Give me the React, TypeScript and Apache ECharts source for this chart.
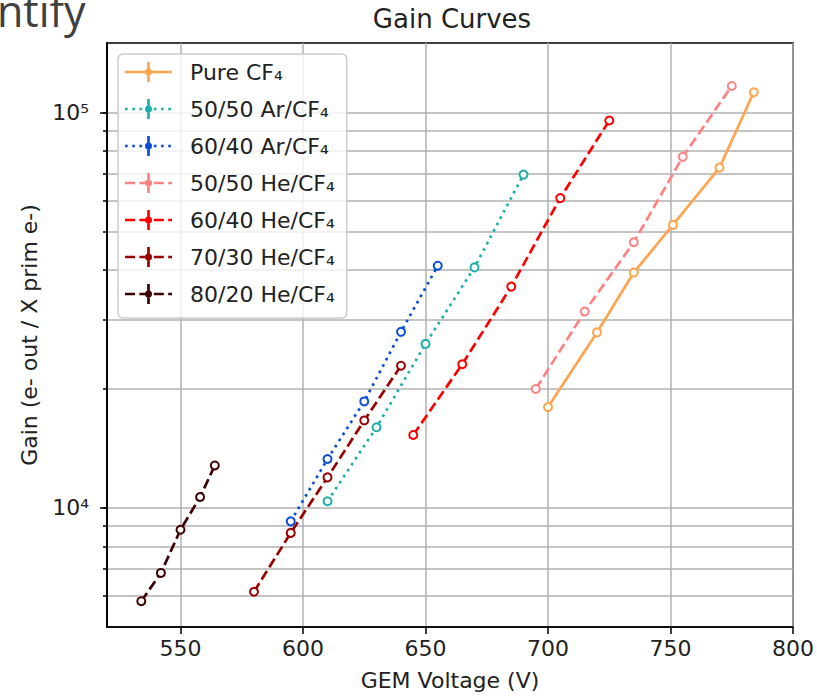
import React, { useEffect, useRef } from 'react';
import * as echarts from 'echarts';

// ---- Data ----
const seriesNames = [
  'Pure CF₄',
  '50/50 Ar/CF₄',
  '60/40 Ar/CF₄',
  '50/50 He/CF₄',
  '60/40 He/CF₄',
  '70/30 He/CF₄',
  '80/20 He/CF₄',
];

const pureCF4Voltage = [700, 720, 735, 751, 770, 784];
const pureCF4Gain = [18000, 27800, 39400, 52000, 72600, 112600];

const ar5050Voltage = [610, 630, 650, 670, 690];
const ar5050Gain = [10400, 16000, 26000, 40600, 69700];

const ar6040Voltage = [595, 610, 625, 640, 655];
const ar6040Gain = [9250, 13300, 18600, 27900, 41000];

const he5050Voltage = [695, 715, 735, 755, 775];
const he5050Gain = [20000, 31400, 47000, 77300, 116800];

const he6040Voltage = [645, 665, 685, 705, 725];
const he6040Gain = [15300, 23100, 36300, 60800, 95500];

const he7030Voltage = [580, 595, 610, 625, 640];
const he7030Gain = [6140, 8650, 11950, 16650, 22900];

const he8020Voltage = [534, 542, 550, 558, 564];
const he8020Gain = [5810, 6850, 8810, 10660, 12810];

const xTickValues = [550, 600, 650, 700, 750, 800];
const yMajorTickValues = [10000, 100000];
const yMajorTickLabels = ['10⁴', '10⁵'];
const yMinorTickValues = [
  6000, 7000, 8000, 9000, 10000, 20000, 30000, 40000, 50000, 60000, 70000,
  80000, 90000, 100000,
];

// ---- Styles ----
const seriesColors = [
  '#ffa54f',
  '#1eb0aa',
  '#0b4fd6',
  '#ff8282',
  '#ff0000',
  '#990000',
  '#3d0000',
];
const seriesDash = ['solid', 'dotted', 'dotted', 'dashed', 'dashed', 'dashed', 'dashed'];

const FONT = 'DejaVu Sans';
const TEXT = '#222222';
const GRID = '#b0b0b0';

const LW = 2.7;
const DOT_DASH = [2.7, 4.5];
const DASH_DASH = [10, 4.4];

function legendIconPath(kind: string): string {
  const W = 47;
  const cy = 10;
  const segs: [number, number][] = [];
  if (kind === 'solid') {
    segs.push([0, W]);
  } else {
    const pat = kind === 'dotted' ? DOT_DASH : DASH_DASH;
    for (let s = 0; s < W; s += pat[0] + pat[1]) {
      segs.push([s, Math.min(s + pat[0], W)]);
    }
  }
  let d = '';
  for (const [a, b] of segs) {
    d += `M${a} ${cy - LW / 2}H${b}V${cy + LW / 2}H${a}Z`;
  }
  const cx = W / 2;
  d += `M${cx - LW / 2} 0H${cx + LW / 2}V20H${cx - LW / 2}Z`;
  d += `M${cx - 3.5} ${cy}A3.5 3.5 0 1 1 ${cx + 3.5} ${cy}A3.5 3.5 0 1 1 ${cx - 3.5} ${cy}Z`;
  // spacer so that the icon box is 60 x 20
  d += `M60 ${cy}L60 ${cy}Z`;
  return 'path://' + d;
}

function pairs(xs: number[], ys: number[]) {
  return xs.map((x, i) => [x, ys[i]]);
}

const seriesData = [
  pairs(pureCF4Voltage, pureCF4Gain),
  pairs(ar5050Voltage, ar5050Gain),
  pairs(ar6040Voltage, ar6040Gain),
  pairs(he5050Voltage, he5050Gain),
  pairs(he6040Voltage, he6040Gain),
  pairs(he7030Voltage, he7030Gain),
  pairs(he8020Voltage, he8020Gain),
];

function buildOption(): any {
  const series = seriesNames.map((name, i) => ({
    name,
    type: 'line',
    xAxisIndex: 0,
    yAxisIndex: 0,
    data: seriesData[i],
    symbol: 'emptyCircle',
    symbolSize: 8,
    showSymbol: true,
    lineStyle: {
      color: seriesColors[i],
      width: LW,
      type:
        seriesDash[i] === 'solid'
          ? 'solid'
          : seriesDash[i] === 'dotted'
          ? DOT_DASH
          : DASH_DASH,
      cap: 'butt',
    },
    itemStyle: { color: seriesColors[i], borderWidth: 2 },
    emphasis: { disabled: true },
    z: 3 + i,
  }));

  return {
    animation: false,
    backgroundColor: '#ffffff',
    textStyle: { fontFamily: FONT },
    title: {
      text: 'Gain Curves',
      left: 452,
      top: 6,
      padding: 0,
      textAlign: 'center',
      textStyle: {
        fontFamily: FONT,
        fontSize: 26,
        fontWeight: 'normal',
        color: TEXT,
      },
    },
    graphic: [
      {
        type: 'text',
        left: -3,
        top: -11,
        style: {
          text: 'ntify',
          fontFamily: 'Open Sans',
          fontSize: 43,
          fill: '#404040',
        },
        silent: true,
      },
    ],
    grid: {
      left: 107,
      right: 20,
      top: 43,
      bottom: 69,
      show: true,
      borderColor: '#000000',
      borderWidth: 1.5,
      backgroundColor: 'transparent',
      containLabel: false,
    },
    legend: {
      orient: 'vertical',
      left: 118,
      top: 54,
      padding: [7, 12, 13, 7],
      itemGap: 15,
      itemWidth: 60,
      itemHeight: 20,
      backgroundColor: 'rgba(255,255,255,0.8)',
      borderColor: '#cccccc',
      borderWidth: 1.5,
      borderRadius: 5,
      selectedMode: false,
      itemStyle: { borderWidth: 0 },
      textStyle: { fontFamily: FONT, fontSize: 22, color: TEXT },
      data: seriesNames.map((name, i) => ({
        name,
        icon: legendIconPath(seriesDash[i]),
        itemStyle: { color: seriesColors[i], borderWidth: 0 },
      })),
      z: 10,
    },
    xAxis: [
      {
        type: 'value',
        min: 520,
        max: 800,
        name: 'GEM Voltage (V)',
        nameLocation: 'middle',
        nameGap: 42,
        nameTextStyle: { fontFamily: FONT, fontSize: 22, color: TEXT },
        axisLine: { show: true, onZero: false, lineStyle: { color: '#000', width: 1.5 } },
        axisTick: {
          show: true,
          customValues: xTickValues,
          length: 7,
          lineStyle: { color: '#000', width: 1.5 },
        },
        axisLabel: {
          show: true,
          customValues: xTickValues,
          margin: 10,
          fontFamily: FONT,
          fontSize: 22,
          color: TEXT,
        },
        splitLine: { show: true, lineStyle: { color: GRID, width: 1.5 } },
      },
    ],
    yAxis: [
      {
        type: 'log',
        logBase: 10,
        min: 5000,
        max: 150000,
        position: 'left',
        name: 'Gain (e- out / X prim e-)',
        nameLocation: 'middle',
        nameRotate: 90,
        nameGap: 67,
        nameTextStyle: { fontFamily: FONT, fontSize: 22, color: TEXT },
        axisLine: { show: true, lineStyle: { color: '#000', width: 1.5 } },
        axisTick: {
          show: true,
          customValues: yMinorTickValues,
          length: 4,
          lineStyle: { color: '#000', width: 1.5 },
        },
        axisLabel: { show: false },
        splitLine: { show: true, lineStyle: { color: GRID, width: 1.5 } },
      },
      {
        type: 'log',
        logBase: 10,
        min: 5000,
        max: 150000,
        position: 'left',
        axisLine: { show: true, lineStyle: { color: '#000', width: 1.5 } },
        axisTick: {
          show: true,
          customValues: yMajorTickValues,
          length: 7,
          lineStyle: { color: '#000', width: 1.5 },
        },
        axisLabel: {
          show: true,
          customValues: yMajorTickValues,
          margin: 18,
          fontFamily: FONT,
          fontSize: 22,
          color: TEXT,
          formatter: (v: number) => {
            const idx = yMajorTickValues.indexOf(Math.round(v));
            return idx >= 0 ? yMajorTickLabels[idx] : '';
          },
        },
        splitLine: { show: false },
      },
    ],
    series,
  };
}

export default function App() {
  const ref = useRef<HTMLDivElement>(null);
  useEffect(() => {
    document.body.style.margin = '0';
    const chart = echarts.init(ref.current!, null, { renderer: 'svg' });
    chart.setOption(buildOption());
    return () => chart.dispose();
  }, []);
  return <div ref={ref} style={{ width: 817, height: 696 }} />;
}
